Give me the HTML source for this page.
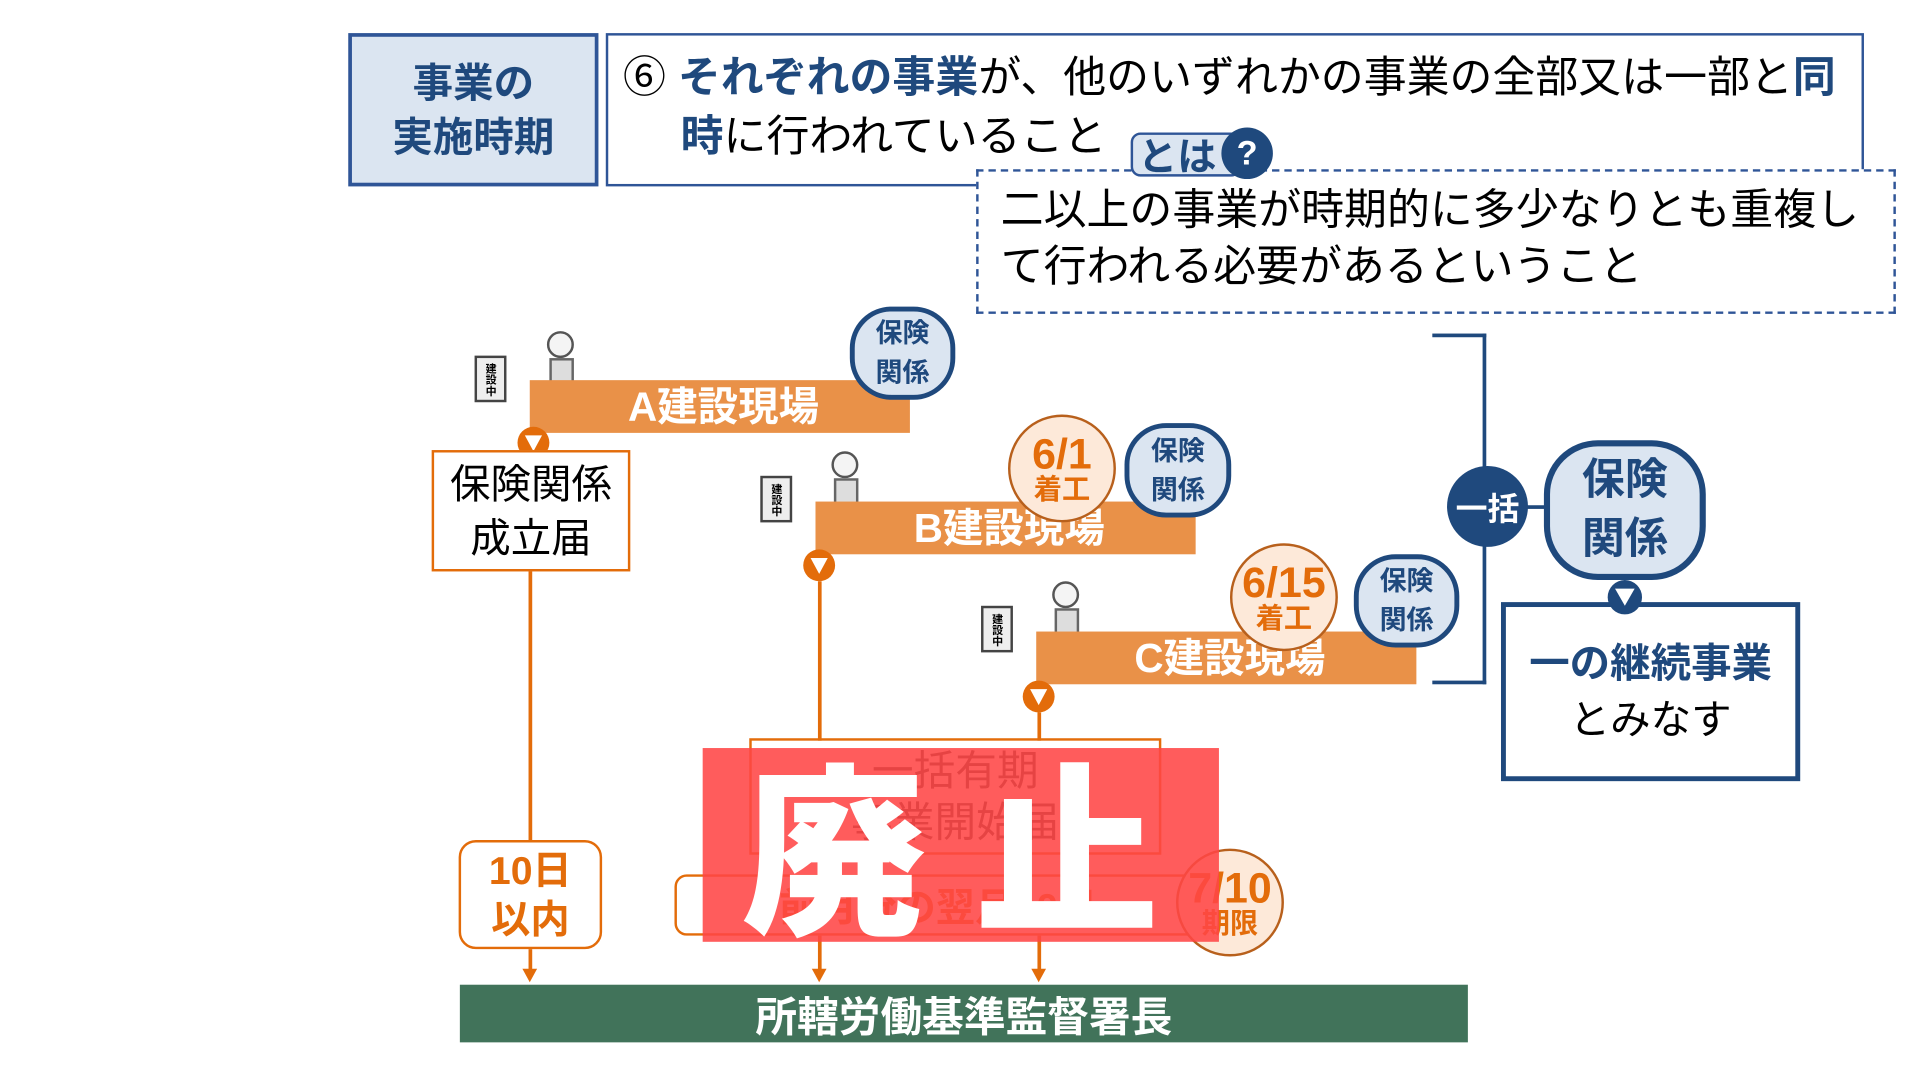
<!DOCTYPE html>
<html><head><meta charset="utf-8"><style>
html,body{margin:0;padding:0;background:#fff;width:1920px;height:1080px;overflow:hidden}
#s{position:absolute;left:0;top:0;width:1566px;height:881px;transform:scale(1.2263);transform-origin:0 0;font-family:"Liberation Sans","Noto Sans CJK JP",sans-serif}
.a{position:absolute;box-sizing:border-box}
.c{display:flex;align-items:center;justify-content:center;text-align:center}
.nv{color:#1f497d;font-weight:bold}
.bar{background:#e99148;color:#fff;font-weight:bold;font-size:33px;height:43px;line-height:43px}
.hk{background:#dbe5f1;border:4px solid #1f497d;border-radius:34px;color:#1f497d;font-weight:bold;font-size:22px;line-height:32px;flex-direction:column}
.dt{background:#fde9d9;border:2px solid #b8601c;border-radius:50%;color:#e36c0a;font-weight:bold;flex-direction:column;line-height:1}
.ol{background:#e36c0a}
.ar{width:26px;height:26px;border-radius:50%;background:#e36c0a}
.ar:after{content:"";position:absolute;left:6px;top:7px;border-left:7px solid transparent;border-right:7px solid transparent;border-top:13px solid #fff}
.ah{position:absolute;width:0;height:0;border-left:6px solid transparent;border-right:6px solid transparent;border-top:11px solid #e36c0a}
.sign{border:2px solid #444;background:#eee;width:26px;height:38px;font-size:9px;line-height:10px;writing-mode:vertical-rl;font-weight:bold;text-align:center}
</style></head><body><div id="s">

<div class="a c nv" style="left:284px;top:27px;width:204px;height:125px;background:#dbe5f1;border:3px solid #2f5597;font-size:33px;line-height:44px">事業の<br>実施時期</div>
<div class="a" style="left:494px;top:27px;width:1026px;height:125px;border:2px solid #2f5597"></div>
<div class="a" style="left:508px;top:40px;font-size:35px;line-height:48px;white-space:nowrap">⑥ <span class="nv">それぞれの事業</span>が、他のいずれかの事業の全部又は一部と<span class="nv">同</span><br><span style="display:inline-block;width:47px"></span><span class="nv">時</span>に行われていること</div>

<div class="a" style="left:796px;top:138px;width:750px;height:118px;border:2px dashed #2f5597;background:#fff"></div>
<div class="a" style="left:816px;top:149px;font-size:35px;line-height:46px;white-space:nowrap">二以上の事業が時期的に多少なりとも重複し<br>て行われる必要があるということ</div>
<div class="a c nv" style="left:922px;top:108px;width:90px;height:36px;background:#dbe5f1;border:2px solid #2f5597;border-radius:8px;font-size:32px;justify-content:flex-start;padding-left:4px">とは</div>
<div class="a c" style="left:996px;top:104px;width:42px;height:42px;border-radius:50%;background:#1f497d;color:#fff;font-weight:bold;font-size:28px">?</div>

<!-- A -->
<div class="a sign c" style="left:387px;top:290px">建設中</div>
<div class="a" style="left:446px;top:270px;width:22px;height:22px;border-radius:50%;border:2px solid #555;background:#f4f4f4"></div>
<div class="a" style="left:448px;top:292px;width:20px;height:30px;border:2px solid #666;background:#ddd"></div>
<div class="a bar c" style="left:432px;top:310px;width:310px;padding-left:6px">A建設現場</div>
<div class="a hk c" style="left:693px;top:250px;width:86px;height:76px">保険<br>関係</div>
<div class="a ar" style="left:422px;top:348px"></div>
<div class="a c" style="left:352px;top:367px;width:162px;height:99px;border:2px solid #e36c0a;font-size:33px;line-height:44px;background:#fff">保険関係<br>成立届</div>

<!-- B -->
<div class="a sign c" style="left:620px;top:388px">建設中</div>
<div class="a" style="left:678px;top:368px;width:22px;height:22px;border-radius:50%;border:2px solid #555;background:#f4f4f4"></div>
<div class="a" style="left:680px;top:390px;width:20px;height:30px;border:2px solid #666;background:#ddd"></div>
<div class="a bar c" style="left:665px;top:409px;width:310px;padding-left:6px">B建設現場</div>
<div class="a dt c" style="left:822px;top:338px;width:88px;height:88px"><span style="font-size:35px">6/1</span><span style="font-size:23px">着工</span></div>
<div class="a hk c" style="left:917px;top:345px;width:87px;height:77px">保険<br>関係</div>
<div class="a ar" style="left:655px;top:448px"></div>

<!-- C -->
<div class="a sign c" style="left:800px;top:494px">建設中</div>
<div class="a" style="left:858px;top:474px;width:22px;height:22px;border-radius:50%;border:2px solid #555;background:#f4f4f4"></div>
<div class="a" style="left:860px;top:496px;width:20px;height:30px;border:2px solid #666;background:#ddd"></div>
<div class="a bar c" style="left:845px;top:515px;width:310px;padding-left:6px">C建設現場</div>
<div class="a dt c" style="left:1003px;top:443px;width:88px;height:88px"><span style="font-size:35px">6/15</span><span style="font-size:23px">着工</span></div>
<div class="a hk c" style="left:1104px;top:452px;width:86px;height:76px">保険<br>関係</div>
<div class="a ar" style="left:834px;top:555px"></div>

<!-- lines -->
<div class="a ol" style="left:431px;top:466px;width:3px;height:220px"></div>
<div class="a ol" style="left:431px;top:774px;width:3px;height:18px"></div>
<div class="ah" style="left:426px;top:790px"></div>
<div class="a c" style="left:374px;top:685px;width:117px;height:89px;border:2px solid #e36c0a;border-radius:14px;color:#e36c0a;font-weight:bold;font-size:32px;line-height:40px;background:#fff">10日<br>以内</div>
<div class="a ol" style="left:667px;top:474px;width:3px;height:130px"></div>
<div class="a ol" style="left:846px;top:581px;width:3px;height:23px"></div>
<div class="a c" style="left:611px;top:602px;width:336px;height:95px;border:2px solid #e36c0a;font-size:34px;line-height:42px;color:#333">一括有期<br>事業開始届</div>
<div class="a c" style="left:550px;top:713px;width:430px;height:50px;border:2px solid #e36c0a;border-radius:10px;color:#e36c0a;font-weight:bold;font-size:32px">前月分の翌月10日</div>
<div class="a dt c" style="left:959px;top:692px;width:88px;height:88px"><span style="font-size:35px">7/10</span><span style="font-size:23px">期限</span></div>
<div class="a ol" style="left:667px;top:763px;width:3px;height:29px"></div>
<div class="ah" style="left:662px;top:790px"></div>
<div class="a ol" style="left:846px;top:763px;width:3px;height:29px"></div>
<div class="ah" style="left:841px;top:790px"></div>

<!-- 廃止 overlay -->
<div class="a" style="left:573px;top:610px;width:421px;height:158px;background:rgba(255,70,70,0.88)"></div>
<div class="a" style="left:605px;top:596px;color:#fff;font-weight:900;font-size:150px;line-height:180px;letter-spacing:40px;white-space:nowrap;font-family:'Noto Sans CJK JP',sans-serif">廃止</div>

<div class="a c" style="left:375px;top:803px;width:822px;height:47px;background:#41735a;color:#fff;font-weight:bold;font-size:34px">所轄労働基準監督署長</div>

<!-- right -->
<div class="a" style="left:1168px;top:272px;width:44px;height:286px;border:3px solid #1f497d;border-left:none"></div>
<div class="a c" style="left:1180px;top:380px;width:66px;height:66px;border-radius:50%;background:#1f497d;color:#fff;font-weight:bold;font-size:26px">一括</div>
<div class="a" style="left:1244px;top:412px;width:18px;height:3px;background:#1f497d"></div>
<div class="a hk c" style="left:1259px;top:359px;width:132px;height:114px;border-width:5px;border-radius:44px;font-size:35px;line-height:48px">保険<br>関係</div>
<div class="a c" style="left:1224px;top:491px;width:244px;height:146px;border:4px solid #1f497d;font-size:33px;line-height:46px;flex-direction:column;background:#fff"><span class="nv">一の継続事業</span><span>とみなす</span></div>
<div class="a" style="left:1311px;top:473px;width:28px;height:28px;border-radius:50%;background:#1f497d"></div>
<div class="a" style="left:1317px;top:480px;border-left:8px solid transparent;border-right:8px solid transparent;border-top:14px solid #fff"></div>

</div></body></html>
